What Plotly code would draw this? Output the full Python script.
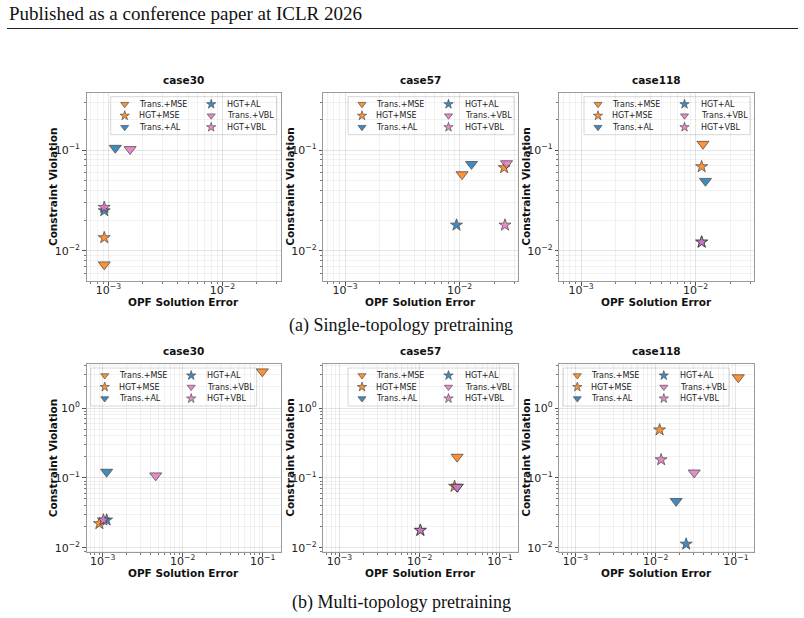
import plotly.graph_objects as go

# ---------------- data ----------------
methods = ["Trans.+MSE", "HGT+MSE", "Trans.+AL", "HGT+AL", "Trans.+VBL", "HGT+VBL"]
cases = ["case30", "case57", "case118"]
row_captions = ["(a) Single-topology pretraining", "(b) Multi-topology pretraining"]
header_text = "Published as a conference paper at ICLR 2026"
x_title = "OPF Solution Error"
y_title = "Constraint Violation"
tick_exponents = [-3, -2, -1, 0]
tick_labels = ["10<sup>\u22123</sup>", "10<sup>\u22122</sup>", "10<sup>\u22121</sup>", "10<sup>0</sup>"]

# single-topology pretraining (OPF solution error, constraint violation)
single_case30_err = [9.2e-4, 9.2e-4, 1.15e-3, 9.2e-4, 1.55e-3, 9.2e-4]
single_case30_viol = [7.3e-3, 0.0135, 0.105, 0.025, 0.102, 0.027]
single_case57_err = [0.0105, 0.0245, 0.0127, 0.0094, 0.0257, 0.0249]
single_case57_viol = [0.0574, 0.067, 0.0726, 0.018, 0.0738, 0.018]
single_case118_err = [0.0116, 0.0113, 0.0122, 0.0113, None, 0.0113]
single_case118_viol = [0.115, 0.0684, 0.0493, 0.0122, None, 0.0122]

# multi-topology pretraining
multi_case30_err = [0.099, 9.1e-4, 1.12e-3, 1.12e-3, 4.6e-3, 1.02e-3]
multi_case30_viol = [3.33, 0.0222, 0.122, 0.025, 0.108, 0.025]
multi_case57_err = [0.0293, 0.0272, 0.0293, 0.0102, 0.0293, 0.0102]
multi_case57_viol = [0.2, 0.0758, 0.0743, 0.0178, 0.0743, 0.0178]
multi_case118_err = [0.107, 0.0112, 0.018, 0.024, 0.0302, 0.0117]
multi_case118_viol = [2.74, 0.487, 0.0466, 0.0113, 0.119, 0.182]

panels = [
    [(single_case30_err, single_case30_viol), (single_case57_err, single_case57_viol),
     (single_case118_err, single_case118_viol)],
    [(multi_case30_err, multi_case30_viol), (multi_case57_err, multi_case57_viol),
     (multi_case118_err, multi_case118_viol)],
]

# ---------------- styles / layout ----------------
W, H = 804, 618
col_px = [(86.7, 280.7), (323.3, 518.0), (559.3, 754.0)]
row_px = [(92.7, 281.0), (364.0, 552.0)]
row_xrange = [(-3.19, -1.49), (-3.2, -0.775)]
row_yrange = [(-2.30, -0.43), (-2.06, 0.63)]
legend_corner = [["right", "right", "right"], ["left", "right", "left"]]

ORANGE, BLUE, PINK = "#ff7f0e", "#1f77b4", "#e377c2"
method_color = [ORANGE, ORANGE, BLUE, BLUE, PINK, PINK]
method_symbol = ["triangle-down", "star", "triangle-down", "star", "triangle-down", "star"]
plot_size = {"triangle-down": 10.5, "star": 9}
leg_size = {"triangle-down": 7, "star": 7}
FONT = "DejaVu Sans"

fig = go.Figure()
layout = dict(width=W, height=H, margin=dict(l=0, r=0, t=0, b=0),
              paper_bgcolor="white", plot_bgcolor="rgba(0,0,0,0)", showlegend=False)
annotations, shapes = [], []


def axis_style(rng, dom, anchor, standoff):
    lo, hi = rng
    vals = [10.0 ** e for e in tick_exponents if lo <= e <= hi]
    texts = [t for e, t in zip(tick_exponents, tick_labels) if lo <= e <= hi]
    minor_vals = [m * 10.0 ** e for e in range(-4, 1) for m in range(2, 10)
                  if 10 ** lo <= m * 10.0 ** e <= 10 ** hi]
    return dict(
        type="log", range=[lo, hi], domain=dom, anchor=anchor,
        showline=True, linecolor="#9a9a9a", linewidth=1, mirror=True,
        ticks="outside", ticklen=3.5, tickwidth=0.8, tickcolor="#555",
        showgrid=True, gridcolor="rgba(0,0,0,0.10)", gridwidth=0.7,
        zeroline=False, tickmode="array", tickvals=vals, ticktext=texts,
        tickfont=dict(family=FONT, size=11, color="#222"), ticklabelstandoff=standoff,
        minor=dict(tickmode="array", tickvals=minor_vals, ticks="outside", ticklen=2,
                   tickwidth=0.6, tickcolor="#777", showgrid=True,
                   gridcolor="rgba(0,0,0,0.05)", gridwidth=0.6),
        automargin=False,
    )


for r in range(2):
    for c in range(3):
        k = r * 3 + 1 + c
        sfx = "" if k == 1 else str(k)
        x0, x1 = col_px[c]
        yt, yb = row_px[r]
        xlo, xhi = row_xrange[r]
        ylo, yhi = row_yrange[r]
        layout["xaxis" + sfx] = axis_style((xlo, xhi), [x0 / W, x1 / W], "y" + sfx, -5)
        layout["yaxis" + sfx] = axis_style((ylo, yhi), [1 - yb / H, 1 - yt / H], "x" + sfx, 0)

        # legend box (drawn first, under grid & markers)
        lw, lh, pad = 166, 38, 4
        L = x1 - pad - lw if legend_corner[r][c] == "right" else x0 + pad
        T = yt + pad
        shapes.append(dict(type="rect", xref="paper", yref="paper",
                           x0=L / W, x1=(L + lw) / W, y0=1 - (T + lh) / H, y1=1 - T / H,
                           fillcolor="rgba(255,255,255,0.9)",
                           line=dict(color="#cccccc", width=0.8), layer="below"))

        errs, viols = panels[r][c]
        for i, m in enumerate(methods):
            sym = method_symbol[i]
            fig.add_trace(go.Scatter(
                x=[errs[i]], y=[viols[i]], mode="markers", name=m,
                xaxis="x" + sfx, yaxis="y" + sfx,
                marker=dict(symbol=sym, size=plot_size[sym], color=method_color[i],
                            opacity=0.85, line=dict(color="#333", width=0.8)),
            ))

        # subplot title and axis titles
        annotations.append(dict(text=cases[c], xref=f"x{sfx} domain", yref=f"y{sfx} domain",
                                x=0.5, y=1, yanchor="bottom", yshift=5, showarrow=False,
                                font=dict(family=FONT, size=10.5, color="#111", weight="bold")))
        annotations.append(dict(text=x_title, xref=f"x{sfx} domain", yref="paper",
                                x=0.5, y=1 - (yb + 21) / H, yanchor="middle", showarrow=False,
                                font=dict(family=FONT, size=10.5, color="#111", weight="bold")))
        annotations.append(dict(text=y_title, xref="paper", yref=f"y{sfx} domain",
                                x=(x0 - 33.5) / W, y=0.5, xanchor="center", yanchor="middle",
                                textangle=-90, showarrow=False,
                                font=dict(family=FONT, size=10.5, color="#111", weight="bold")))

        def dx(px):
            return (px - x0) / (x1 - x0)

        def dy(py):
            return (yb - py) / (yb - yt)

        marker_dx = [14, 100.5]
        text_dx = [26, 114.5]
        for i, m in enumerate(methods):
            col, row = i // 3, i % 3
            py = T + 7.5 + 11.5 * row
            mx = L + marker_dx[col]
            lx = 10 ** (xlo + dx(mx) * (xhi - xlo))
            ly = 10 ** (ylo + dy(py) * (yhi - ylo))
            sym = method_symbol[i]
            fig.add_trace(go.Scatter(
                x=[lx], y=[ly], mode="markers", hoverinfo="skip",
                xaxis="x" + sfx, yaxis="y" + sfx,
                marker=dict(symbol=sym, size=leg_size[sym], color=method_color[i],
                            opacity=0.85, line=dict(color="#333", width=0.7)),
            ))
            annotations.append(dict(text=m, xref="paper", yref="paper",
                                    x=(L + text_dx[col]) / W, y=1 - py / H, xanchor="left",
                                    yanchor="middle", showarrow=False,
                                    font=dict(family=FONT, size=8, color="#222")))

# page header, rule and captions
annotations.append(dict(text=header_text, xref="paper", yref="paper", x=7 / W, y=1 - 14 / H,
                        xanchor="left", yanchor="middle", showarrow=False,
                        font=dict(family="Liberation Serif", size=19, color="#111")))
shapes.append(dict(type="line", xref="paper", yref="paper", x0=7 / W, x1=798 / W,
                   y0=1 - 28.5 / H, y1=1 - 28.5 / H, line=dict(color="#222", width=1.2)))
for r, cap_y in enumerate([326, 602]):
    annotations.append(dict(text=row_captions[r], xref="paper", yref="paper", x=401 / W,
                            y=1 - cap_y / H, xanchor="center", yanchor="middle",
                            showarrow=False,
                            font=dict(family="Liberation Serif", size=18, color="#111")))

layout["annotations"] = annotations
layout["shapes"] = shapes
fig.update_layout(**layout)
fig.write_html("out.html")
